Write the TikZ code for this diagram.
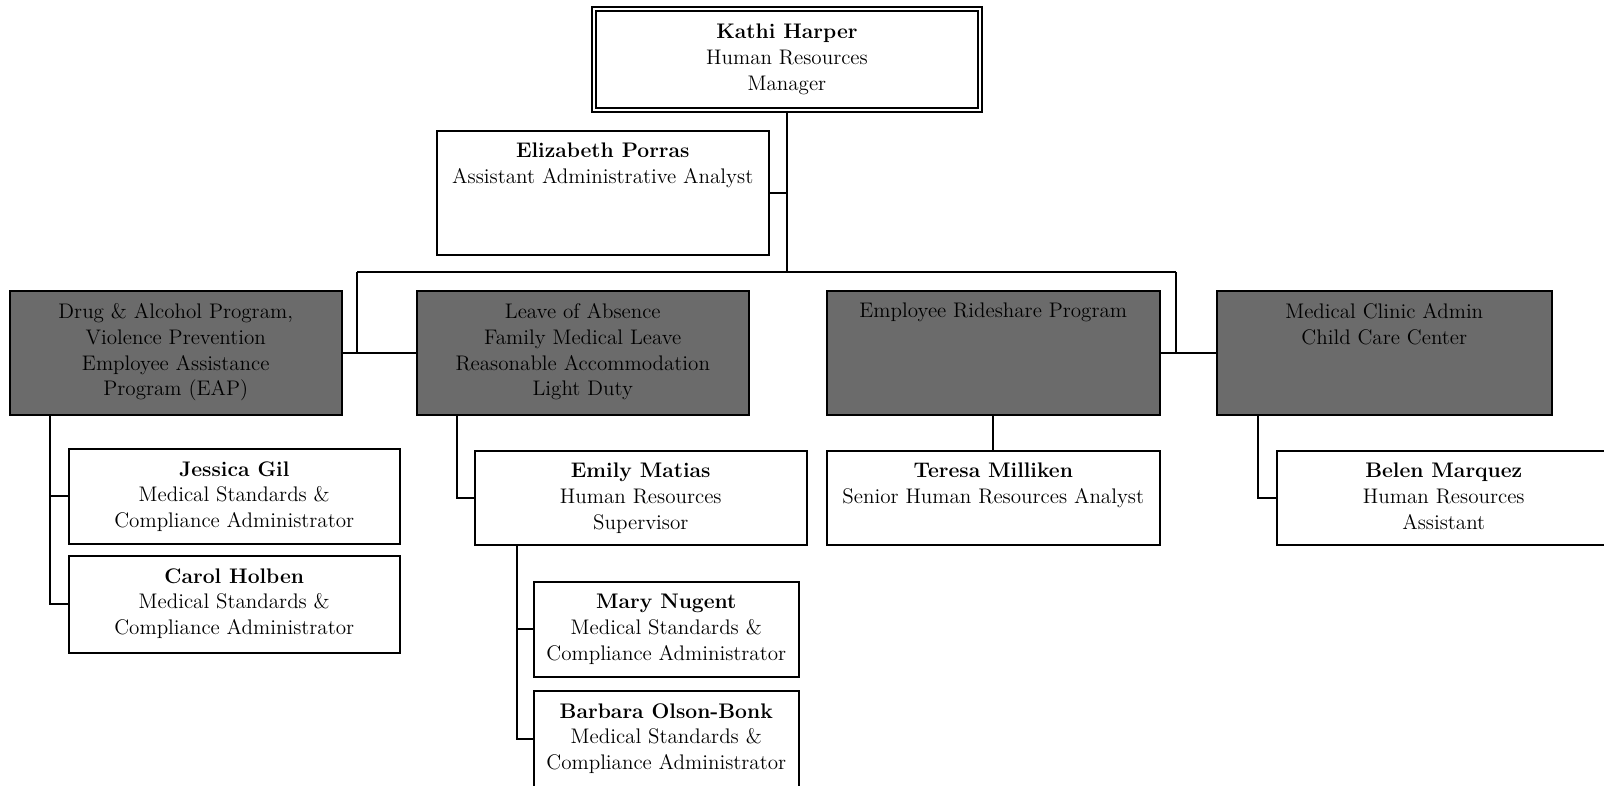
\documentclass[tikz,border=0pt]{standalone}
\usepackage{tikz}
\usetikzlibrary{calc}

\tikzset{
  box/.style={draw, line width=0.9pt, fill=white, anchor=north west, inner sep=0pt},
  prog/.style={box, fill=black!58},
  txt/.style={anchor=north, align=center, inner sep=0pt, yshift=-7.4pt,
    font=\fontsize{12}{14.7}\selectfont},
  link/.style={line width=0.9pt},
}

\begin{document}
\begin{tikzpicture}[x=0.02cm, y=-0.02cm]
\useasboundingbox (0,0) rectangle (1604,786);
\clip (0,0) rectangle (1604,786);

\node[box, double, double distance=1.4pt, line width=1.1pt, minimum width=7.72cm, minimum height=2.02cm,
  label={[txt, yshift=-1.6pt]north:{\textbf{Kathi Harper}\\Human Resources\\Manager}}] (mgr) at (593,8) {};
\node[box, minimum width=6.64cm, minimum height=2.48cm,
  label={[txt]north:{\textbf{Elizabeth Porras}\\Assistant Administrative Analyst}}] (porras) at (436,130) {};

\node[prog, minimum width=6.64cm, minimum height=2.48cm,
  label={[txt]north:{Drug \& Alcohol Program,\\Violence Prevention\\Employee Assistance\\Program (EAP)}}] (drug) at (9,290) {};
\node[prog, minimum width=6.64cm, minimum height=2.48cm,
  label={[txt]north:{Leave of Absence\\Family Medical Leave\\Reasonable Accommodation\\Light Duty}}] (leave) at (416,290) {};
\node[prog, minimum width=6.66cm, minimum height=2.48cm,
  label={[txt]north:{Employee Rideshare Program}}] (ride) at (826,290) {};
\node[prog, minimum width=6.70cm, minimum height=2.48cm,
  label={[txt]north:{Medical Clinic Admin\\Child Care Center}}] (clinic) at (1216,290) {};

\node[box, minimum width=6.62cm, minimum height=1.90cm,
  label={[txt]north:{\textbf{Jessica Gil}\\Medical Standards \&\\Compliance Administrator}}] (gil) at (68,448) {};
\node[box, minimum width=6.62cm, minimum height=1.94cm,
  label={[txt]north:{\textbf{Carol Holben}\\Medical Standards \&\\Compliance Administrator}}] (holben) at (68,555) {};
\node[box, minimum width=6.64cm, minimum height=1.88cm,
  label={[txt]north:{\textbf{Emily Matias}\\Human Resources\\Supervisor}}] (matias) at (474,450) {};
\node[box, minimum width=5.30cm, minimum height=1.90cm,
  label={[txt]north:{\textbf{Mary Nugent}\\Medical Standards \&\\Compliance Administrator}}] (nugent) at (533,581) {};
\node[box, minimum width=5.30cm, minimum height=1.94cm,
  label={[txt]north:{\textbf{Barbara Olson-Bonk}\\Medical Standards \&\\Compliance Administrator}}] (olson) at (533,690) {};
\node[box, minimum width=6.66cm, minimum height=1.88cm,
  label={[txt]north:{\textbf{Teresa Milliken}\\Senior Human Resources Analyst}}] (milliken) at (826,450) {};
\node[box, minimum width=6.68cm, minimum height=1.88cm,
  label={[txt]north:{\textbf{Belen Marquez}\\Human Resources\\Assistant}}] (marquez) at (1276,450) {};

\coordinate (barL) at (357,272);
\coordinate (barR) at (1176,272);

\draw[link] (mgr.south) -- (mgr.south |- barL);
\draw[link] (porras.east) -- (porras.east -| mgr.south);
\draw[link] (barL) -- (barR);
\draw[link] (barL) -- (barL |- drug.east);
\draw[link] (drug.east) -- (leave.west);
\draw[link] (barR) -- (barR |- ride.east);
\draw[link] (ride.east) -- (clinic.west);

\draw[link] ($(drug.south west)+(41,0)$) |- (gil.west);
\draw[link] ($(drug.south west)+(41,0)$) |- (holben.west);
\draw[link] ($(leave.south west)+(41,0)$) |- (matias.west);
\draw[link] ($(matias.south west)+(43,0)$) |- (nugent.west);
\draw[link] ($(matias.south west)+(43,0)$) |- (olson.west);
\draw[link] (ride.south) -- (milliken.north);
\draw[link] ($(clinic.south west)+(42,0)$) |- (marquez.west);
\end{tikzpicture}
\end{document}
